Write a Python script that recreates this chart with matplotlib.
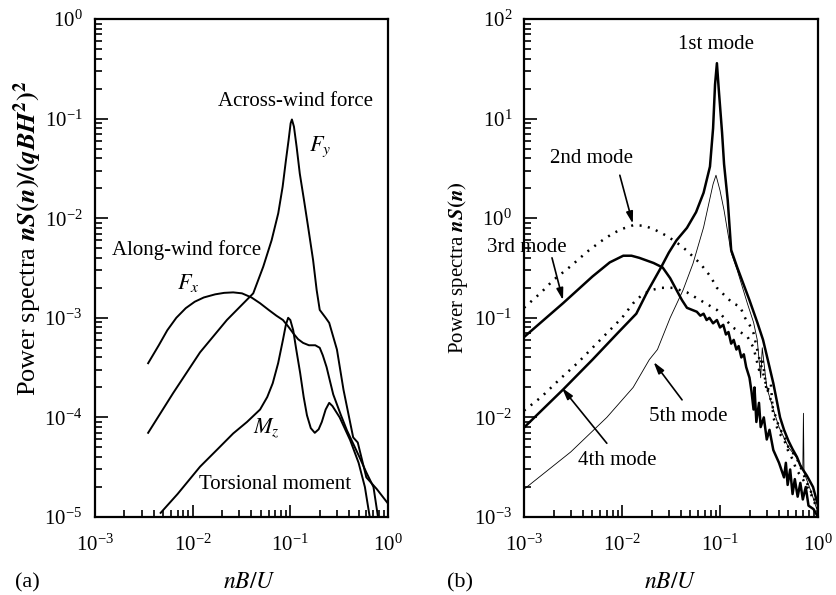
import matplotlib
matplotlib.use("Agg")
import matplotlib.pyplot as plt
from matplotlib.ticker import LogLocator, NullFormatter

plt.rcParams['font.family'] = ['Liberation Serif', 'DejaVu Serif']
plt.rcParams['mathtext.fontset'] = 'stix'

# ---------------- Panel (a) data ----------------
fy_x = [0.0035, 0.0063, 0.0119, 0.0224, 0.0417, 0.0528, 0.0643, 0.0752, 0.0834, 0.0902,
        0.096, 0.1007, 0.1038, 0.1089, 0.116, 0.125, 0.138, 0.152, 0.171, 0.186, 0.2, 0.23,
        0.25, 0.3, 0.35, 0.44, 0.49, 0.6, 0.77, 0.98]
fy_y = [7e-5, 1.75e-4, 4.5e-4, 9.5e-4, 1.76e-3, 3.26e-3, 6.0e-3, 1.12e-2, 2.07e-2, 3.84e-2,
        6.1e-2, 8.97e-2, 9.8e-2, 8.3e-2, 5.2e-2, 2.8e-2, 1.52e-2, 8.2e-3, 3.8e-3, 1.9e-3,
        1.2e-3, 1.0e-3, 8.9e-4, 4.8e-4, 1.9e-4, 6.3e-5, 5.6e-5, 2.5e-5, 1.9e-5, 1.4e-5]

fx_x = [0.0035, 0.0045, 0.0055, 0.0068, 0.0085, 0.0105, 0.013, 0.017, 0.021, 0.026, 0.032,
        0.04, 0.049, 0.06, 0.072, 0.084, 0.095, 0.107, 0.12, 0.135, 0.155, 0.18, 0.2, 0.215,
        0.235, 0.255, 0.275, 0.3, 0.33, 0.38, 0.45, 0.51, 0.6, 0.71, 0.79]
fx_y = [3.5e-4, 5.3e-4, 7.5e-4, 1.0e-3, 1.25e-3, 1.45e-3, 1.6e-3, 1.72e-3, 1.78e-3, 1.8e-3,
        1.76e-3, 1.6e-3, 1.4e-3, 1.2e-3, 1.05e-3, 9.5e-4, 8.2e-4, 7e-4, 6.1e-4, 5.6e-4,
        5.3e-4, 5.3e-4, 5e-4, 4.2e-4, 3.2e-4, 2.3e-4, 1.7e-4, 1.35e-4, 1.05e-4, 7.4e-5,
        5.2e-5, 4e-5, 2.8e-5, 2e-5, 1e-5]

mz_x = [0.0047, 0.007, 0.0119, 0.018, 0.026, 0.036, 0.049, 0.058, 0.066, 0.075, 0.084, 0.09,
        0.095, 0.1, 0.107, 0.115, 0.126, 0.137, 0.148, 0.162, 0.178, 0.195, 0.21, 0.23, 0.25,
        0.27, 0.32, 0.41, 0.5, 0.58, 0.65]
mz_y = [1.1e-5, 1.7e-5, 3.2e-5, 4.8e-5, 6.9e-5, 9e-5, 1.2e-4, 1.6e-4, 2.2e-4, 3.5e-4, 6e-4,
        8.5e-4, 1e-3, 9.5e-4, 7.5e-4, 4.8e-4, 2.8e-4, 1.6e-4, 1.05e-4, 7.8e-5, 7e-5, 7.6e-5,
        9e-5, 1.2e-4, 1.4e-4, 1.3e-4, 1e-4, 5.9e-5, 3.5e-5, 2e-5, 1e-5]

# ---------------- Panel (b) data ----------------
m1_x = [0.001, 0.0025, 0.005, 0.009, 0.014, 0.018, 0.025, 0.03, 0.036, 0.046, 0.057, 0.068,
        0.079, 0.085, 0.089, 0.093, 0.097, 0.105, 0.11, 0.12, 0.13, 0.15, 0.2, 0.24, 0.275,
        0.32, 0.35, 0.41, 0.45, 0.5, 0.55, 0.61, 0.66, 0.7, 0.77, 0.89, 1.0]
m1_y = [0.0079, 0.019, 0.038, 0.07, 0.11, 0.18, 0.32, 0.45, 0.6, 0.8, 1.15, 1.8,
        3.3, 8, 22, 36, 20, 7.2, 3.5, 1.5, 0.48, 0.32, 0.15, 0.09, 0.06,
        0.032, 0.022, 0.01, 0.0075, 0.0058, 0.0048, 0.004, 0.0033, 0.003, 0.0026, 0.002,
        0.0013]

m2_x = [0.001, 0.0015, 0.002, 0.003, 0.0044, 0.006, 0.008, 0.01, 0.013, 0.017, 0.022, 0.029,
        0.037, 0.045, 0.063, 0.08, 0.093, 0.11, 0.135, 0.16, 0.18, 0.2, 0.22, 0.25, 0.27,
        0.3, 0.33, 0.35, 0.4, 0.45, 0.5, 0.6, 0.7, 0.8, 0.9, 1.0]
m2_y = [0.126, 0.18, 0.24, 0.33, 0.46, 0.58, 0.7, 0.78, 0.85, 0.84, 0.76, 0.66,
        0.56, 0.48, 0.35, 0.26, 0.2, 0.17, 0.14, 0.13, 0.1, 0.085, 0.07, 0.04, 0.03,
        0.02, 0.015, 0.012, 0.008, 0.0065, 0.005, 0.004, 0.0028, 0.002, 0.0016, 0.0012]

m3_x = [0.001, 0.0025, 0.005, 0.0075, 0.0103, 0.0125, 0.015, 0.021, 0.026, 0.031, 0.036, 0.041,
        0.046, 0.052, 0.058, 0.063, 0.068, 0.073, 0.078, 0.085, 0.093, 0.1, 0.108, 0.115,
        0.122, 0.13, 0.138, 0.147, 0.155, 0.165, 0.175, 0.185, 0.2, 0.21, 0.22, 0.225, 0.235,
        0.25, 0.26, 0.28, 0.3, 0.32, 0.35, 0.4, 0.45, 0.47, 0.49, 0.52, 0.55, 0.58, 0.62,
        0.66, 0.7, 0.75, 0.8, 0.9, 1.0]
m3_y = [0.064, 0.14, 0.26, 0.36, 0.42, 0.42, 0.4, 0.355, 0.32, 0.25, 0.19, 0.15,
        0.126, 0.12, 0.115, 0.105, 0.11, 0.095, 0.1, 0.088, 0.095, 0.08, 0.085, 0.068,
        0.072, 0.055, 0.06, 0.048, 0.052, 0.04, 0.043, 0.032, 0.025, 0.018, 0.012, 0.02,
        0.009, 0.014, 0.008, 0.01, 0.006, 0.0075, 0.0047, 0.0035, 0.0025, 0.0035, 0.0021,
        0.003, 0.0017, 0.0024, 0.0016, 0.0022, 0.0015, 0.002, 0.0013, 0.0012, 0.001]

m4_x = [0.001, 0.0015, 0.0023, 0.0035, 0.005, 0.007, 0.01, 0.013, 0.016, 0.02, 0.025, 0.033,
        0.046, 0.063, 0.093, 0.135, 0.19, 0.22, 0.25, 0.27, 0.3, 0.33, 0.35, 0.4, 0.45, 0.5,
        0.55, 0.6, 0.7, 0.8, 0.9, 1.0]
m4_y = [0.0117, 0.016, 0.024, 0.035, 0.05, 0.07, 0.1, 0.14, 0.17, 0.19, 0.2, 0.2,
        0.18, 0.15, 0.12, 0.08, 0.065, 0.05, 0.03, 0.04, 0.018, 0.022, 0.01, 0.007, 0.006,
        0.0045, 0.0038, 0.003, 0.0024, 0.0019, 0.0015, 0.0011]

m5_x = [0.001, 0.003, 0.007, 0.013, 0.019, 0.023, 0.031, 0.042, 0.053, 0.068, 0.085, 0.091,
        0.1, 0.11, 0.13, 0.15, 0.19, 0.22, 0.24, 0.26, 0.27, 0.3, 0.35, 0.4, 0.5, 0.6,
        0.7, 0.71, 0.72, 0.85, 1.0]
m5_y = [0.0019, 0.0045, 0.01, 0.02, 0.038, 0.048, 0.1, 0.19, 0.35, 0.81, 2.2, 2.7,
        1.9, 1.2, 0.45, 0.3, 0.14, 0.09, 0.06, 0.025, 0.05, 0.02, 0.012, 0.008, 0.005, 0.004,
        0.003, 0.011, 0.0028, 0.0018, 0.0011]

W, H = 836, 595
fig = plt.figure(figsize=(W / 100, H / 100), dpi=100)
axa = fig.add_axes([95 / W, 1 - 517 / H, 293 / W, 498 / H])
axb = fig.add_axes([524 / W, 1 - 517 / H, 294 / W, 498 / H])

FS = 15

def style(ax, ylo, yhi, ypad):
    ax.set_xscale('log')
    ax.set_yscale('log')
    ax.set_xlim(1e-3, 1e0)
    ax.set_ylim(ylo, yhi)
    for s in ax.spines.values():
        s.set_linewidth(1.6)
    ax.xaxis.set_major_locator(LogLocator(base=10, numticks=10))
    ax.xaxis.set_minor_locator(LogLocator(base=10, subs=range(2, 10), numticks=20))
    ax.yaxis.set_major_locator(LogLocator(base=10, numticks=10))
    ax.yaxis.set_minor_locator(LogLocator(base=10, subs=range(2, 10), numticks=20))
    ax.xaxis.set_minor_formatter(NullFormatter())
    ax.yaxis.set_minor_formatter(NullFormatter())
    ax.tick_params(which='both', direction='in', top=False, right=False, width=1.2)
    ax.tick_params(which='major', length=9)
    ax.tick_params(which='minor', length=5)
    ax.tick_params(axis='x', which='major', pad=12.5, labelsize=FS)
    ax.tick_params(axis='y', which='major', pad=ypad, labelsize=FS)

style(axa, 1e-5, 1e0, 9)
style(axb, 1e-3, 1e2, 8.5)

lw = 1.4
axa.plot(fy_x, fy_y, color='k', lw=lw)
axa.plot(fx_x, fx_y, color='k', lw=lw)
axa.plot(mz_x, mz_y, color='k', lw=lw)

axa.text(0.114, 0.147, 'Across-wind force', fontsize=FS, ha='center', va='center')
axa.text(0.2, 0.0519, r'$F_y$', fontsize=FS + 1, ha='center', va='center')
axa.text(0.00875, 0.0048, 'Along-wind force', fontsize=FS, ha='center', va='center')
axa.text(0.00895, 0.00224, r'$F_x$', fontsize=FS + 1, ha='center', va='center')
axa.text(0.0575, 7.8e-5, r'$M_z$', fontsize=FS + 1, ha='center', va='center')
axa.text(0.0695, 2.1e-5, 'Torsional moment', fontsize=FS, ha='center', va='center')

dot = (0, (0.8, 2.6))
axb.plot(m1_x, m1_y, color='k', lw=1.8)
axb.plot(m2_x, m2_y, color='k', lw=1.8, ls=dot)
axb.plot(m3_x, m3_y, color='k', lw=1.8)
axb.plot(m4_x, m4_y, color='k', lw=1.8, ls=dot)
axb.plot(m5_x, m5_y, color='k', lw=0.6)

ap = dict(arrowstyle='-|>,head_length=0.7,head_width=0.2', color='k', lw=1.2,
          shrinkA=0, shrinkB=0)
axb.text(0.091, 55, '1st mode', fontsize=FS, ha='center', va='center')
axb.annotate('', xy=(0.0129, 0.88), xytext=(0.0095, 2.7), arrowprops=ap)
axb.text(0.0049, 3.93, '2nd mode', fontsize=FS, ha='center', va='center')
axb.annotate('', xy=(0.0025, 0.15), xytext=(0.00193, 0.4), arrowprops=ap)
axb.text(0.00107, 0.51, '3rd mode', fontsize=FS, ha='center', va='center')
axb.annotate('', xy=(0.021, 0.036), xytext=(0.041, 0.015), arrowprops=ap)
axb.text(0.047, 0.0103, '5th mode', fontsize=FS, ha='center', va='center')
axb.annotate('', xy=(0.00244, 0.0198), xytext=(0.0070, 0.0055), arrowprops=ap)
axb.text(0.0089, 0.0037, '4th mode', fontsize=FS, ha='center', va='center')

fig.text(28 / W, 1 - 238 / H,
         r'Power spectra $\mathbfit{nS}\mathbf{(}\mathbfit{n}\mathbf{)/(}\mathbfit{qBH}^{\mathbf{2}}\mathbf{)}^{\mathbf{2}}$',
         rotation=90, fontsize=19, ha='center', va='center')
fig.text(458 / W, 1 - 268 / H, r'Power spectra $\mathbfit{nS}\mathbf{(}\mathbfit{n}\mathbf{)}$',
         rotation=90, fontsize=15, ha='center', va='center')

fig.text(249 / W, 1 - 583 / H, r'$nB/U$', fontsize=17, ha='center', va='center')
fig.text(670 / W, 1 - 583 / H, r'$nB/U$', fontsize=17, ha='center', va='center')
fig.text(27 / W, 1 - 583 / H, '(a)', fontsize=16, ha='center', va='center')
fig.text(460 / W, 1 - 583 / H, '(b)', fontsize=16, ha='center', va='center')

fig.savefig('out.png', dpi=100)
